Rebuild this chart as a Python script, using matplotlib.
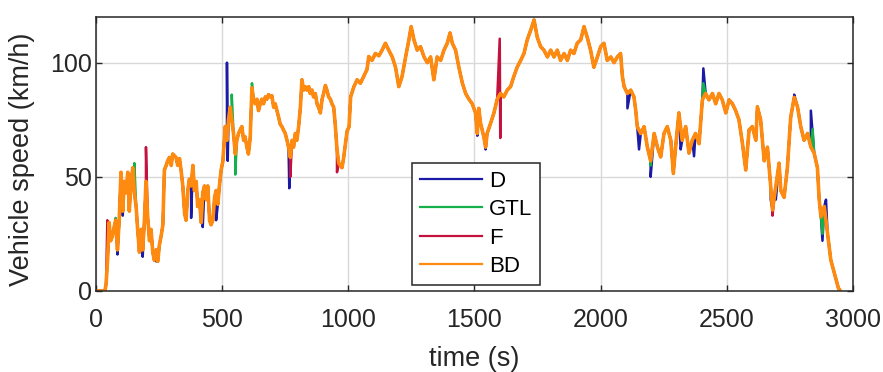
import numpy as np
import matplotlib
matplotlib.use("Agg")
import matplotlib.pyplot as plt

plt.rcParams['font.family'] = ['Liberation Sans', 'DejaVu Sans']

# BD speed profile (time in s, speed in km/h)
t_bd = [0, 35, 40, 46, 52, 58, 65, 72, 78, 85, 92, 99, 106, 112, 119, 126, 132, 139, 146, 152,
        159, 165, 172, 179, 185, 192, 198, 205, 212, 218, 225, 231, 238, 245, 251, 258, 265, 271,
        278, 284, 291, 298, 304, 317, 324, 331, 337, 344, 351, 357, 364, 370, 377, 384, 390, 397,
        403, 410, 417, 423, 430, 437, 443, 450, 456, 463, 470, 476, 483, 489, 496, 503, 509,
        512, 519, 525, 532, 538, 545, 552, 558, 565, 571, 578, 585, 591, 598, 604, 611, 618, 624,
        631, 638, 644, 651, 657, 664, 671, 677, 684, 690, 697, 704, 710, 717, 724, 730, 737, 743,
        750, 757, 763, 770, 777, 783, 790, 796, 803, 810, 816, 823, 829, 836, 843, 849, 856, 862,
        869, 876, 882, 889, 896, 902, 909, 915, 922, 929, 935, 942, 948, 955, 962, 968, 975, 981,
        988, 995, 1003, 1009, 1022, 1035, 1048, 1061, 1074, 1081, 1094, 1107, 1121, 1134, 1147,
        1160, 1174, 1187, 1200, 1213, 1227, 1240, 1249, 1260, 1273, 1286, 1300, 1313, 1326, 1339,
        1352, 1366, 1379, 1392, 1403, 1412, 1425, 1438, 1452, 1465, 1478, 1491, 1504, 1511, 1517,
        1524, 1537, 1544, 1550, 1564, 1577, 1590, 1603, 1616, 1630, 1643, 1656, 1669, 1683, 1696,
        1709, 1722, 1736, 1749, 1762, 1775, 1789, 1802, 1815, 1828, 1841, 1855, 1868, 1881, 1894,
        1907, 1921, 1934, 1947, 1960, 1973, 1987, 2000, 2013, 2026, 2040, 2053, 2066, 2079, 2086,
        2093, 2106, 2119, 2132, 2139, 2145, 2159, 2172, 2185, 2198, 2212, 2225, 2238, 2251, 2264,
        2278, 2288, 2297, 2310, 2323, 2337, 2350, 2363, 2376, 2390, 2403, 2416, 2429, 2443, 2456,
        2469, 2482, 2496, 2509, 2522, 2535, 2548, 2562, 2575, 2588, 2601, 2615, 2621, 2634, 2648,
        2661, 2674, 2681, 2694, 2707, 2714, 2727, 2740, 2753, 2767, 2780, 2793, 2806, 2820, 2833,
        2846, 2859, 2866, 2873, 2886, 2899, 2912, 2926, 2942, 2950]
v_bd = [0, 0, 3, 14, 30, 22, 24, 28, 31, 18, 31, 52, 35, 48, 43, 52, 35, 48, 54, 43,
        37, 27, 17, 27, 18, 31, 48, 32, 22, 27, 17, 13.5, 18, 13, 20, 24, 29, 53,
        55, 57, 58.5, 55, 60, 58.5, 55, 58, 53, 46, 34, 31, 44, 49, 46, 55, 44, 48,
        37, 40, 30, 43, 46, 40, 46, 31, 29, 31, 41, 44, 38, 46, 53, 57, 67,
        72, 66, 75, 80.5, 75, 69, 60, 66, 69, 70.5, 72, 66, 67.5, 63, 60, 67, 89, 84,
        82, 84, 79, 82, 84, 82, 85, 84, 86, 85, 85.5, 80.5, 82, 79, 76, 73, 72, 70.5,
        69, 66, 63, 58.5, 66, 63, 69, 66, 72, 80.5, 92.5, 88, 89.5, 88, 89.5, 86.5, 88, 85,
        86.5, 82, 80.5, 78, 84, 86.5, 90, 88, 85, 84, 82, 80.5, 73, 62, 56, 55, 54, 58,
        64, 70, 72, 85, 89.5, 92.5, 91, 94, 97, 102.7, 101, 104, 103, 105.5, 108.5,
        105.5, 102.5, 98, 89.5, 94, 102.5, 110, 115.8, 110, 105.5, 107, 102.5, 100, 102.5, 92.5,
        102.5, 101, 105.5, 108.5, 113, 108.5, 105.5, 98, 91, 86.5, 84, 82, 78, 69, 80,
        73.5, 67.5, 63, 69, 73.5, 78, 84, 86.5, 85, 88, 89.5, 94, 98, 101, 104,
        110, 114, 118.7, 111, 107, 105.5, 102.5, 105.5, 102.5, 105.5, 101, 104, 101, 105.5, 104,
        108.5, 110, 115.8, 111, 105.5, 98, 102.5, 107, 108.5, 101, 102.5, 100, 102.5, 104, 94,
        89.5, 86.5, 88, 85, 79, 72, 69, 72, 63, 57, 69, 63, 58.7, 69, 72,
        66, 51.5, 63, 78, 66, 72, 60.4, 66, 69, 64.5, 83.7, 86.5, 83.7, 86.5, 82,
        86.5, 83.7, 78, 83.7, 82, 79, 75, 64.5, 53, 70.5, 72, 66, 80.7, 75, 57,
        63, 45.6, 35.5, 45.6, 56, 44, 41, 54, 76, 84.8, 80.7, 72, 66, 69, 63,
        60.4, 54, 40, 32.5, 37, 25.4, 13.6, 7.8, 1.3, 0]

# points where the other methods stick out from the BD trace
t_d_spk = [85, 106, 185, 238, 377, 423, 476, 519, 522, 766, 1511, 1544, 2106, 2152, 2198,
           2317, 2370, 2407, 2674, 2694, 2767, 2833, 2879, 2893]
v_d_spk = [16, 33, 15, 13, 32, 28, 31, 100, 57, 45, 68, 62, 80, 62, 50,
           62, 59, 97.5, 40, 40, 86, 79, 22, 40]
t_gtl_spk = [78, 152, 538, 552, 618, 2198, 2407, 2840, 2879]
v_gtl_spk = [32, 56, 86, 51, 91, 55, 91, 71, 25]
t_f_spk = [45, 198, 770, 955, 1600, 1602, 2681, 2687]
v_f_spk = [31, 63, 50, 52, 110.5, 67, 33, 40]


def with_spikes(t_spk, v_spk):
    t = np.concatenate([t_bd, t_spk])
    v = np.concatenate([v_bd, v_spk])
    order = np.argsort(t, kind='stable')
    return t[order], v[order]


fig = plt.figure(figsize=(8.83, 3.72), dpi=100)
ax = fig.add_axes([96 / 883, 81 / 372, 757 / 883, 274 / 372])

ax.plot(*with_spikes(t_d_spk, v_d_spk), color='#1a1aa6', lw=1.8, label='D')
ax.plot(*with_spikes(t_gtl_spk, v_gtl_spk), color='#16b04a', lw=1.8, label='GTL')
ax.plot(*with_spikes(t_f_spk, v_f_spk), color='#c4123e', lw=1.8, label='F')
ax.plot(t_bd, v_bd, color='#ff8a10', lw=2.6, label='BD')

ax.set_xlim(0, 3000)
ax.set_ylim(0, 120)
ax.set_xticks([0, 500, 1000, 1500, 2000, 2500, 3000])
ax.set_yticks([0, 50, 100])
ax.grid(True, color='#d9d9d9', lw=1.0)
ax.set_axisbelow(True)
ax.tick_params(direction='in', length=4.5, width=1, top=True, right=True,
               labelsize=18, colors='#262626')
ax.tick_params(axis='x', pad=12)
ax.tick_params(axis='y', pad=3)
for s in ax.spines.values():
    s.set_linewidth(1.1)
    s.set_color('#262626')

ax.set_xlabel('time (s)', fontsize=19.5, color='#262626')
ax.set_ylabel('Vehicle speed (km/h)', fontsize=19.5, color='#262626')
ax.xaxis.set_label_coords(0.5, -0.2)
ax.yaxis.set_label_coords(-0.08, 0.48)

leg = ax.legend(loc='lower left', bbox_to_anchor=(0.4175, 0.022), borderaxespad=0,
                fontsize=16, fancybox=False, framealpha=1, edgecolor='#262626',
                handlelength=2.8, labelspacing=0.34, handletextpad=0.3, borderpad=0.35)
leg.get_frame().set_linewidth(1.1)
for h in leg.get_lines():
    h.set_linewidth(1.6)

fig.savefig('out.png', dpi=100)
